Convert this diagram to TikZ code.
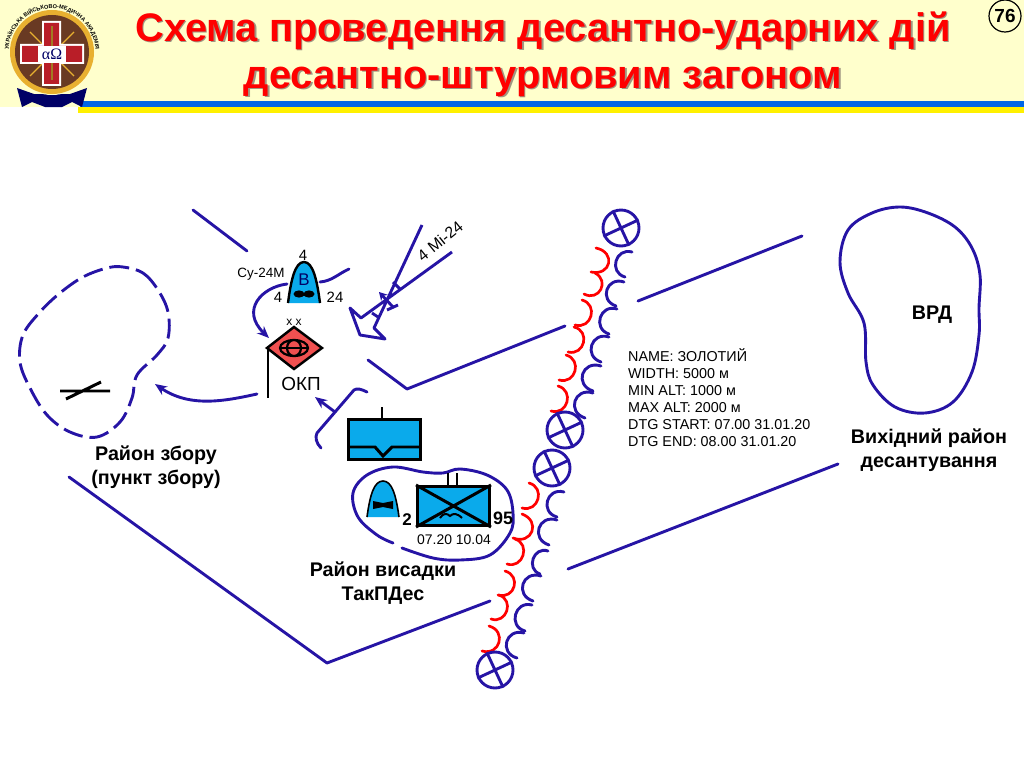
\documentclass[tikz,border=0pt]{standalone}
\usepackage{fontspec}
\setmainfont{Liberation Sans}
\newfontfamily\serifgreek{Liberation Serif}
\usetikzlibrary{calc,arrows.meta,decorations.text}
\definecolor{lineblue}{RGB}{38,20,165}
\definecolor{symblue}{RGB}{10,170,235}
\definecolor{hdr}{RGB}{255,255,204}
\definecolor{diamondred}{RGB}{240,80,80}
\definecolor{stripeblue}{RGB}{0,102,230}
\definecolor{stripeyellow}{RGB}{255,240,0}
\definecolor{shadowred}{RGB}{160,150,130}
\definecolor{gold}{RGB}{232,176,48}
\definecolor{brown1}{RGB}{105,58,35}
\definecolor{crossred}{RGB}{185,30,40}
\tikzset{
  route/.style={draw=lineblue,line width=2.9pt,line cap=round,line join=round},
  redarc/.style={draw=red,line width=2.7pt,line cap=round},
  blkline/.style={draw=black,line width=3pt},
  symbox/.style={draw=black,fill=symblue,line width=3pt},
  head/.style={-{Stealth[length=12pt,width=10pt]}},
  boldlab/.style={font=\bfseries\fontsize{19.8}{24}\selectfont,align=center},
  titletext/.style={font=\bfseries\fontsize{40}{47}\selectfont,align=center},
}
\newcommand{\bulge}[4]{%
  \draw[#1] let \p1=($(#3)-($(#2)!(#3)!(#4)$)$) in (#2) .. controls ($(#2)+1.45*(\p1)$) and ($(#4)+1.45*(\p1)$) .. (#4);}
\newcommand{\crosscircle}[2]{%
  \node[circle,draw=lineblue,line width=2.9pt,minimum size=36bp,inner sep=0pt,fill=white] (#1) at (#2) {};
  \draw[route,line cap=butt] (#1.205) -- (#1.25) (#1.115) -- (#1.295);}
\begin{document}
\begin{tikzpicture}[x=1bp,y=-1bp]
\useasboundingbox (0,0) rectangle (1024,767);
\fill[white] (0,0) rectangle (1024,767);
% header
\fill[hdr] (0,0) rectangle (1024,107);
\fill[stripeblue] (80,101) rectangle (1024,107);
\fill[stripeyellow] (78,107) rectangle (1024,113);
\node[titletext,text=shadowred] at (544.5,55.5) {Схема проведення десантно-ударних дій\\десантно-штурмовим загоном};
\node[titletext,text=red] (title) at (543,54) {Схема проведення десантно-ударних дій\\десантно-штурмовим загоном};
\node[circle,draw=black,line width=1.2pt,fill=hdr,minimum size=32bp,inner sep=0pt,font=\bfseries\fontsize{19}{20}\selectfont] (pagenum) at (1005,16) {76};
% emblem
\fill[black!60!blue] (17,88) -- (22,107) -- (32,102) -- (45,107) -- (62,107) -- (72,102) -- (82,107) -- (87,88) -- (70,94) -- (34,94) -- cycle;
\fill[hdr] (52,52) circle (43);
\fill[gold] (52,52) circle (42);
\fill[brown1] (52,52) circle (37);
\draw[gold,line width=1.4pt] (30,32) -- (74,76) (74,32) -- (30,76);
\fill[white] (42,21) rectangle (61,86) (20,44) rectangle (84,64);
\fill[crossred] (44,23) rectangle (59,84) (22,46) rectangle (82,62);
\fill[gold!70!black] (50.5,26) rectangle (52.5,80);
\fill[white] (38,46) rectangle (66,63);
\node[font=\serifgreek\fontsize{16}{16}\selectfont,text=black!60!blue,inner sep=0pt] (alphaomega) at (52,54) {αΩ};
\begin{scope}[shift={(52,52)},y=1bp]
\path[decorate,decoration={text along path,text align=center,text={|\fontsize{5.6}{6}\selectfont\bfseries|УКРАЇНСЬКА ВІЙСЬКОВО-МЕДИЧНА АКАДЕМІЯ}}]
  (220:43.5) arc[start angle=220,end angle=-40,radius=43.5];
\end{scope}
% blue areas
\draw[route,line cap=butt,dash pattern=on 20pt off 7pt] plot[smooth cycle,tension=0.6] coordinates {(123,267) (143,273) (158,290) (168,312) (168,338) (157,355) (137,375) (132,398) (120,422) (97,437) (70,432) (47,415) (30,388) (20,362) (23,335) (40,312) (60,293) (83,277) (107,268)};
\draw[blkline] (60,391) -- (110,391) (66,399) -- (101,382);
\draw[route] plot[smooth cycle,tension=0.6] coordinates {(900,207) (928,213) (955,227) (972,248) (980,275) (979,308) (979,335) (972,372) (953,402) (925,413) (895,407) (873,385) (866,362) (864,323) (848,293) (840,262) (848,230) (872,213)};
\draw[route] plot[smooth,tension=0.6] coordinates {(402,548) (433,558) (460,560) (490,555) (510,533) (513,513) (507,490) (487,475) (460,469) (443,473) (423,472) (393,467) (367,475) (353,493) (358,517) (377,535) (393,543)};
% long routes
\coordinate (a1) at (193,210); \coordinate (a2) at (247,251);
\draw[route] (a1) -- (a2);
\coordinate (b1) at (368,360); \coordinate (b2) at (407,389); \coordinate (b3) at (565,326);
\draw[route] (b1) -- (b2) -- (b3);
\coordinate (c1) at (638,301); \coordinate (c2) at (802,236);
\draw[route] (c1) -- (c2);
\coordinate (d1) at (69,477); \coordinate (d2) at (327,663); \coordinate (d3) at (490,601);
\draw[route] (d1) -- (d2) -- (d3);
\coordinate (e1) at (568,569); \coordinate (e2) at (838,464);
\draw[route] (e1) -- (e2);
% helicopter corridor
\coordinate (h1) at (422,225); \coordinate (h2) at (374,328); \coordinate (h3) at (385,339); \coordinate (h4) at (360,335); \coordinate (h5) at (350,308); \coordinate (h6) at (361,318); \coordinate (h7) at (452,252);
\draw[route,line cap=butt] (h1) -- (h2) -- (h3) -- (h4) -- (h5) -- (h6) -- (h7);
\draw[route,line cap=butt] (393,282) -- (400,289) (372,313) -- (378,317);
\coordinate (t1) at (393,307); \coordinate (t2) at (379,292);
\draw[route,line cap=butt,-{Stealth[length=8pt,width=9pt]}] (t1) -- (t2);
\draw[route,line cap=butt] (387,310) -- (398,305);
\node[rotate=39,font=\fontsize{16}{17}\selectfont,inner sep=0pt] (mi) at (440,241) {4 Mi-24};
% upper dome
\fill[symblue] (288,303) .. controls (291,280) and (295,262) .. (304,262) .. controls (313,262) and (317,280) .. (320,303) -- cycle;
\draw[black,line width=2.4pt] (288,303) .. controls (291,280) and (295,262) .. (304,262) .. controls (313,262) and (317,280) .. (320,303);
\node[font=\fontsize{17}{18}\selectfont,text=black!60!blue,inner sep=0pt] (bv) at (304,280) {В};
\fill[black] (299,294) ellipse (5.5 and 3.6);
\fill[black] (309,294) ellipse (5.5 and 3.6);
\fill[black] (298,292.5) rectangle (310,295.5);
\node[font=\fontsize{15}{16}\selectfont] (n4a) at (303,255) {4};
\node[font=\fontsize{13.5}{14}\selectfont] (su) at (261,274) {Су-24М};
\node[font=\fontsize{15}{16}\selectfont] (n4b) at (278,297) {4};
\node[font=\fontsize{15}{16}\selectfont] (n24) at (335,297) {24};
\draw[route] (320,282) .. controls (332,281) and (338,274) .. (349,269);
% red diamond
\node[font=\fontsize{12}{12}\selectfont,inner sep=0pt] (xx) at (294,322) {x x};
\draw[draw=black,line width=2.5pt,fill=diamondred,line join=miter] (267,348) -- (294,327) -- (322,348) -- (294,369) -- cycle;
\draw[black,line width=2.2pt] (294,348) ellipse (14 and 8) (294,348) ellipse (7 and 8);
\draw[black,line width=1.4pt] (280,348) -- (308,348);
\draw[black,line width=3pt] (268,347) -- (268,398);
\node[font=\fontsize{19}{20}\selectfont] (okp) at (301,384) {ОКП};
% arrows
\coordinate (f1) at (287,284); \coordinate (f2) at (269,338);
\draw[route,head] (f1) .. controls (262,287) and (240,310) .. (f2);
\coordinate (g1) at (257,394); \coordinate (g2) at (155,384);
\draw[route,head] (g1) .. controls (225,401) and (190,408) .. (g2);
\coordinate (k1) at (335,412); \coordinate (k2) at (315,397);
\draw[route,head] (k1) -- (k2);
\draw[route] (367,392) .. controls (361,389) and (357,388) .. (354,390) -- (317,433) .. controls (315,437) and (316,443) .. (321,448);
% box 1
\draw[black,line width=2pt] (382,407) -- (382,418);
\node[symbox,minimum width=72bp,minimum height=40bp,inner sep=0pt,anchor=north west] (box1) at (347,418) {};
\draw[blkline,line join=miter] (box1.west |- 0,447) -- (375,447) -- (383,456) -- (392,447) -- (box1.east |- 0,447);
% landing zone symbols
\fill[symblue] (367,517) .. controls (370,495) and (374,481) .. (383,481) .. controls (392,481) and (396,495) .. (399,517) -- cycle;
\draw[black,line width=1.6pt] (367,517) .. controls (370,495) and (374,481) .. (383,481) .. controls (392,481) and (396,495) .. (399,517);
\fill[black] (373,501) -- (383,503) -- (393,501) -- (393,509) -- (383,507) -- (373,509) -- cycle;
\draw[black,line width=2pt] (448,473) -- (448,485) (457,473) -- (457,485);
\node[symbox,minimum width=72bp,minimum height=39bp,inner sep=0pt,anchor=north west] (box2) at (416,485) {};
\draw[blkline] (box2.north west) -- (box2.south east) (box2.north east) -- (box2.south west);
\draw[black,line width=2pt] (440,518) .. controls (443,513) and (447,513) .. (450,516) .. controls (453,513) and (457,513) .. (462,518);
\node[font=\bfseries\fontsize{17}{17}\selectfont] (two) at (407,520) {2};
\node[font=\bfseries\fontsize{18}{18}\selectfont] (nf) at (503,518) {95};
\node[font=\fontsize{14}{14}\selectfont] (times) at (454,540) {07.20 10.04};
% labels
\node[boldlab] (l1) at (156,467) {Район збору\\(пункт збору)};
\node[boldlab] (l2) at (383,583) {Район висадки\\ТакПДес};
\node[boldlab] (l3) at (929,450) {Вихідний район\\десантування};
\node[font=\bfseries\fontsize{19.8}{20}\selectfont] (vrd) at (932,315) {ВРД};
\node[anchor=north west,align=left,inner sep=0pt,font=\fontsize{14.4}{17.1}\selectfont] (info) at (628,348) {NAME: ЗОЛОТИЙ\\WIDTH: 5000 м\\MIN ALT: 1000 м\\MAX ALT: 2000 м\\DTG START: 07.00 31.01.20\\DTG END: 08.00 31.01.20};
% barrier upper
\bulge{route}{632,252}{616,265}{625,277}
\bulge{route}{624,282}{607,293}{616,306}
\bulge{route}{617,309}{600,322}{609,334}
\bulge{route}{609,337}{592,348}{601,362}
\bulge{route}{601,366}{583,377}{593,391}
\bulge{route}{593,393}{575,405}{585,418}
\bulge{redarc}{596,248}{608,260}{591,272}
\bulge{redarc}{595,273}{603,283}{584,294}
\bulge{redarc}{582,300}{591,312}{575,325}
\bulge{redarc}{574,327}{583,340}{568,352}
\bulge{redarc}{566,355}{575,367}{559,380}
\bulge{redarc}{558,386}{567,398}{551,411}
% barrier lower
\bulge{route}{564,492}{548,503}{557,517}
\bulge{route}{557,520}{539,532}{549,545}
\bulge{route}{548,551}{533,562}{540,574}
\bulge{route}{541,576}{523,588}{533,601}
\bulge{route}{532,605}{516,617}{525,631}
\bulge{route}{524,633}{507,645}{517,658}
\bulge{redarc}{529,483}{538,495}{522,508}
\bulge{redarc}{522,514}{533,525}{513,538}
\bulge{redarc}{515,539}{523,552}{507,564}
\bulge{redarc}{505,571}{514,583}{498,595}
\bulge{redarc}{499,595}{507,607}{491,619}
\bulge{redarc}{489,626}{499,638}{482,651}
% crossed circles
\crosscircle{cc1}{621,228}
\crosscircle{cc2}{565,430}
\crosscircle{cc3}{552,468}
\crosscircle{cc4}{495,670}
\end{tikzpicture}
\end{document}
